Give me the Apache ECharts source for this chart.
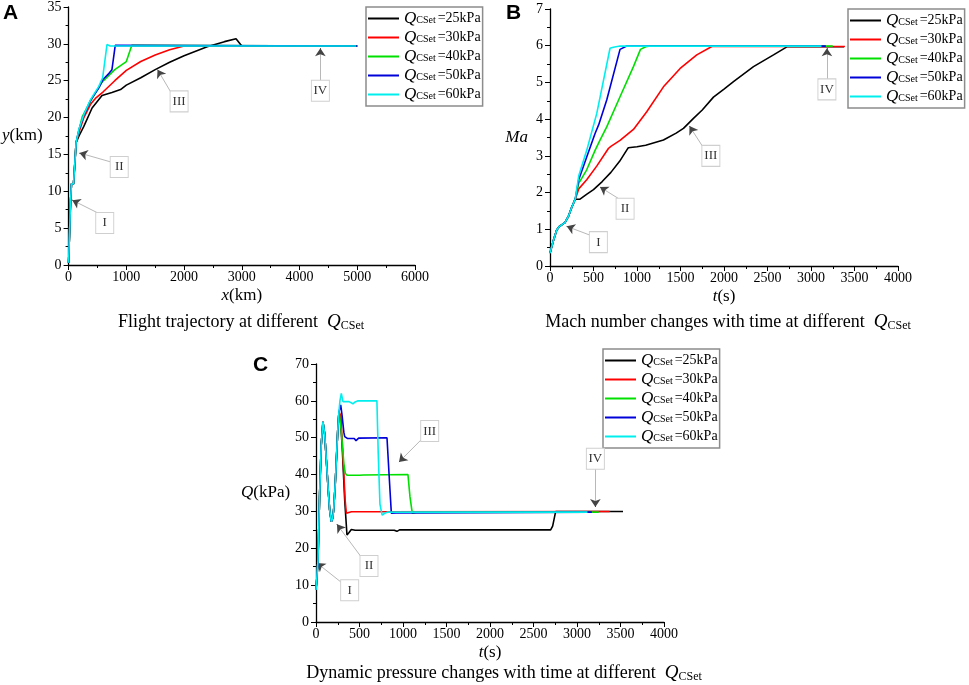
<!DOCTYPE html>
<html>
<head>
<meta charset="utf-8">
<script src="https://cdn.jsdelivr.net/npm/echarts@6/dist/echarts.min.js"></script>
<style>
html,body{margin:0;padding:0;background:#fff;}
#chart{width:969px;height:685px;}
</style>
</head>
<body>
<div id="chart"></div>
<script>
// ---------- data ----------
const legendNames = ['25kPa', '30kPa', '40kPa', '50kPa', '60kPa'];

// Panel A: flight trajectory, [x (km), y (km)]
const trajCommon = [[0,0.3],[15,4],[35,8.8],[50,11],[85,11],[95,10.8],[110,14],[130,16.6]];
const trajBlack = [[180,17.5],[264,18.8],[407,21.3],[579,23.0],[751,23.4],[900,23.8],[1000,24.4],[1250,25.4],[1500,26.5],[1750,27.5],[2000,28.4],[2400,29.6],[2700,30.3],[2900,30.7],[3000,29.7],[5000,29.7]];
const trajRed = [[180,18.0],[264,20.0],[380,21.8],[464,22.6],[600,23.5],[800,25.0],[1000,26.4],[1250,27.6],[1500,28.5],[1750,29.2],[2000,29.7],[5000,29.7]];
const trajGreen = [[178,18.2],[235,20.1],[407,22.6],[579,24.8],[800,26.5],[1000,27.6],[1026,27.8],[1095,29.8],[1120,29.7],[5000,29.7]];
const trajBlue = [[178,18.3],[264,20.3],[378,22.3],[521,24.0],[600,25.2],[700,26.0],[751,26.5],[808,29.8],[830,29.7],[5000,29.7]];
const trajCyan = [[178,18.4],[264,20.4],[378,22.4],[521,24.2],[590,25.4],[665,29.9],[690,29.9],[720,29.7],[4980,29.7]];

// Panel B: Mach number vs time, [t (s), Ma]
const machCommon = [[0,0.35],[40,0.7],[77,0.98],[110,1.08],[134,1.12],[172,1.18],[211,1.35],[250,1.6],[290,1.82]];
const machBlack = [[320,1.82],[345,1.82],[420,1.95],[500,2.08],[600,2.3],[700,2.55],[800,2.85],[880,3.15],[900,3.22],[1000,3.25],[1100,3.29],[1304,3.43],[1450,3.62],[1534,3.75],[1649,4.02],[1750,4.25],[1879,4.6],[2000,4.82],[2109,5.02],[2339,5.43],[2569,5.75],[2723,5.97],[3380,5.97]];
const machRed = [[330,2.1],[422,2.35],[537,2.72],[671,3.2],[700,3.26],[805,3.42],[959,3.72],[1112,4.2],[1304,4.88],[1496,5.38],[1687,5.75],[1860,5.98],[3390,5.98]];
const machGreen = [[330,2.25],[422,2.62],[518,3.15],[575,3.43],[652,3.79],[805,4.61],[959,5.43],[1040,5.9],[1100,5.97],[1151,5.99],[3250,5.99]];
const machBlue = [[330,2.35],[422,2.97],[518,3.61],[560,3.85],[652,4.52],[805,5.9],[882,5.99],[3170,5.99]];
const machCyan = [[330,2.45],[422,3.15],[537,4.15],[690,5.93],[729,5.96],[805,5.99],[3120,5.99]];

// Panel C: dynamic pressure vs time, [t (s), Q (kPa)]
const qCommon = [[0,8.7],[10,12],[23,16.8],[42,34.9],[60,48],[80,54.3],[100,51],[119,43.9],[140,36],[157,30.4],[176,27.2],[190,28],[203,30.4],[220,37],[234,43.9],[250,52],[264,57]];
const qBlack = [[280,55],[300,48],[330,33],[356,23.6],[380,24.3],[406,25.1],[450,24.9],[900,24.9],[930,24.6],[960,25],[2697,25],[2720,26],[2755,30],[3529,30]];
const qRed = [[285,56],[310,45],[335,33],[349,29.5],[368,29.0],[406,29.9],[690,29.9],[700,29.4],[720,29.9],[3375,30]];
const qGreen = [[272,57.5],[290,52],[320,43],[337,40.3],[360,39.8],[500,39.8],[521,39.3],[545,39.9],[1057,40],[1080,34],[1107,29.5],[1150,29.7],[3250,29.8]];
const qBlue = [[284,58.9],[300,56],[320,51.5],[330,50.3],[360,49.8],[440,49.8],[460,49.2],[490,49.9],[816,50],[840,40],[866,29.5],[880,29.2],[920,29.6],[3170,29.8]];
const qCyan = [[275,60],[291,62],[310,59.8],[380,59.8],[425,59.2],[450,59.7],[483,60],[700,60],[715,46],[735,32],[760,29],[790,29.5],[820,29.8],[3120,29.8]];

// Annotations (label, box centre, arrow start, arrow tip) in data units
const annotA = [
  ['I',   [626,5.7],   [522,7.0],   [64,8.8]],
  ['II',  [877,13.3],  [722,14.0],  [189,15.2]],
  ['III', [1914,22.2], [1782,23.3], [1541,26.5]],
  ['IV',  [4361,23.65],[4361,24.9], [4361,29.4]]
];
const annotB = [
  ['I',   [556,0.65],  [460,0.84],  [192,1.08]],
  ['II',  [863,1.56],  [786,1.84],  [575,2.15]],
  ['III', [1849,3.0],  [1756,3.25], [1603,3.81]],
  ['IV',  [3183,4.81], [3183,5.06], [3183,5.93]]
];
const annotC = [
  ['I',   [387,8.6],   [310,10.4],  [11,16.0]],
  ['II',  [609,15.2],  [521,17.6],  [241,26.5]],
  ['III', [1307,51.8], [1211,49.5], [954,43.4]],
  ['IV',  [3211,44.3], [3211,41.6], [3211,31.2]]
];

// ---------- style ----------
const colors = ['#000000', '#ff0000', '#00e000', '#0000d8', '#00eeee'];
const serif = '"Liberation Serif", "Times New Roman", serif';
const sans = '"Liberation Sans", Arial, sans-serif';

function lineSeries(g, data, i) {
  return {
    type: 'line', name: legendNames[i], xAxisIndex: g, yAxisIndex: g,
    data: data, symbol: 'none', showSymbol: false, smooth: false,
    lineStyle: { width: 1.6, color: colors[i] }, itemStyle: { color: colors[i] },
    z: 2 + i, animation: false
  };
}

function annotSeries(g, list) {
  const lines = [];
  const points = [];
  list.forEach(a => {
    const from = a[2], to = a[3];
    const near = [to[0] - (to[0] - from[0]) * 0.03, to[1] - (to[1] - from[1]) * 0.03];
    lines.push([{ coord: from, symbol: 'none' }, { coord: to, symbol: 'none' }]);
    lines.push([{ coord: near, symbol: 'none', lineStyle: { color: '#444', width: 1 } },
                { coord: to, symbol: 'arrow', symbolSize: 8 }]);
    points.push({ name: a[0], coord: a[1] });
  });
  return {
    type: 'line', name: 'annot', xAxisIndex: g, yAxisIndex: g, data: [], silent: true, z: 20,
    animation: false,
    markLine: {
      silent: true, animation: false, symbol: ['none', 'none'],
      label: { show: false },
      lineStyle: { color: '#b8b8b8', width: 1, type: 'solid' },
      emphasis: { disabled: true },
      data: lines
    },
    markPoint: {
      silent: true, animation: false, symbol: 'rect', symbolSize: [18, 21],
      itemStyle: { color: '#ffffff', borderColor: '#cfcfcf', borderWidth: 1 },
      label: { show: true, position: 'inside', formatter: '{b}', color: '#333', fontFamily: serif, fontSize: 13 },
      data: points
    }
  };
}

const richLegend = {
  q: { fontFamily: serif, fontStyle: 'italic', fontSize: 17, color: '#000', lineHeight: 14, verticalAlign: 'middle' },
  s: { fontFamily: serif, fontSize: 10, color: '#000', lineHeight: 8, verticalAlign: 'bottom', padding: [0, 2, 0, 0] },
  t: { fontFamily: serif, fontSize: 14, color: '#000', lineHeight: 14, verticalAlign: 'middle' }
};

function legendAt(left, top) {
  return {
    data: legendNames.map(n => ({ name: n, icon: 'rect' })),
    orient: 'vertical', left: left, top: top,
    itemWidth: 31, itemHeight: 2, itemGap: 2, padding: [3, 2, 3, 2],
    borderColor: '#8c8c8c', borderWidth: 1.5, backgroundColor: '#fff',
    selectedMode: false,
    formatter: n => '{q|Q}{s|CSet}{t|=' + n + '}',
    textStyle: { rich: richLegend }
  };
}

const nameRich = {
  i: { fontFamily: serif, fontStyle: 'italic', fontSize: 17, color: '#000' },
  r: { fontFamily: serif, fontSize: 17, color: '#000' }
};

const plainNum = v => String(v);

function xAxis(g, max, interval, name) {
  return {
    gridIndex: g, type: 'value', min: 0, max: max, interval: interval,
    name: name, nameLocation: 'middle', nameGap: 22,
    nameTextStyle: { rich: nameRich },
    axisLine: { show: true, onZero: false, lineStyle: { color: '#000', width: 1.3 } },
    axisTick: { show: true, length: 5, lineStyle: { color: '#000', width: 1 } },
    minorTick: { show: true, splitNumber: 2, length: 3, lineStyle: { color: '#000', width: 1 } },
    axisLabel: { fontFamily: serif, fontSize: 14, color: '#000', margin: 5, formatter: plainNum },
    splitLine: { show: false }
  };
}
function yAxis(g, max, interval, name, gap) {
  return {
    gridIndex: g, type: 'value', min: 0, max: max, interval: interval,
    name: name, nameLocation: 'middle', nameGap: gap, nameRotate: 0,
    nameTextStyle: { rich: nameRich, align: 'right' },
    axisLine: { show: true, onZero: false, lineStyle: { color: '#000', width: 1.3 } },
    axisTick: { show: true, length: 5, lineStyle: { color: '#000', width: 1 } },
    minorTick: { show: true, splitNumber: 2, length: 3, lineStyle: { color: '#000', width: 1 } },
    axisLabel: { fontFamily: serif, fontSize: 14, color: '#000', margin: 7, formatter: plainNum },
    splitLine: { show: false }
  };
}

const capRich = {
  c: { fontFamily: serif, fontSize: 18, fill: '#000' },
  q: { fontFamily: serif, fontSize: 19, fontStyle: 'italic', fill: '#000' },
  s: { fontFamily: serif, fontSize: 12, fill: '#000', padding: [7, 0, 0, 0] }
};
function caption(cx, cy, text) {
  return {
    type: 'text', x: cx, y: cy,
    style: {
      text: '{c|' + text + '  }{q|Q}{s|CSet}',
      rich: capRich, align: 'center', verticalAlign: 'middle',
      font: '18px ' + serif, fill: '#000'
    },
    z: 100
  };
}
function panelLetter(x, y, t) {
  return { type: 'text', x: x, y: y, style: { text: t, font: 'bold 21px ' + sans, fill: '#000' }, z: 100 };
}

const option = {
  backgroundColor: '#fff',
  animation: false,
  grid: [
    { left: 66, top: 7, width: 349, height: 258 },
    { left: 550, top: 9, width: 348, height: 257 },
    { left: 316, top: 364, width: 348, height: 258 }
  ],
  xAxis: [
    xAxis(0, 6000, 1000, '{i|x}{r|(km)}'),
    xAxis(1, 4000, 500, '{i|t}{r|(s)}'),
    xAxis(2, 4000, 500, '{i|t}{r|(s)}')
  ],
  yAxis: [
    yAxis(0, 35, 5, '{i|y}{r|(km)}', 26),
    yAxis(1, 7, 1, '{i|Ma}', 22),
    yAxis(2, 70, 10, '{i|Q}{r|(kPa)}', 21)
  ],
  legend: [legendAt(366, 7), legendAt(848, 9), legendAt(603, 349)],
  series: [
    lineSeries(0, trajCommon.concat(trajBlack), 0),
    lineSeries(0, trajCommon.concat(trajRed), 1),
    lineSeries(0, trajCommon.concat(trajGreen), 2),
    lineSeries(0, trajCommon.concat(trajBlue), 3),
    lineSeries(0, trajCommon.concat(trajCyan), 4),
    lineSeries(1, machCommon.concat(machBlack), 0),
    lineSeries(1, machCommon.concat(machRed), 1),
    lineSeries(1, machCommon.concat(machGreen), 2),
    lineSeries(1, machCommon.concat(machBlue), 3),
    lineSeries(1, machCommon.concat(machCyan), 4),
    lineSeries(2, qCommon.concat(qBlack), 0),
    lineSeries(2, qCommon.concat(qRed), 1),
    lineSeries(2, qCommon.concat(qGreen), 2),
    lineSeries(2, qCommon.concat(qBlue), 3),
    lineSeries(2, qCommon.concat(qCyan), 4),
    annotSeries(0, annotA),
    annotSeries(1, annotB),
    annotSeries(2, annotC)
  ],
  graphic: [
    panelLetter(3, 3, 'A'),
    panelLetter(506, 3, 'B'),
    panelLetter(253, 355, 'C'),
    caption(241, 322, 'Flight trajectory at different'),
    caption(728, 322, 'Mach number changes with time at different'),
    caption(504, 673, 'Dynamic pressure changes with time at different')
  ]
};

const chart = echarts.init(document.getElementById('chart'), null, { renderer: 'canvas' });
chart.setOption(option);
</script>
</body>
</html>
